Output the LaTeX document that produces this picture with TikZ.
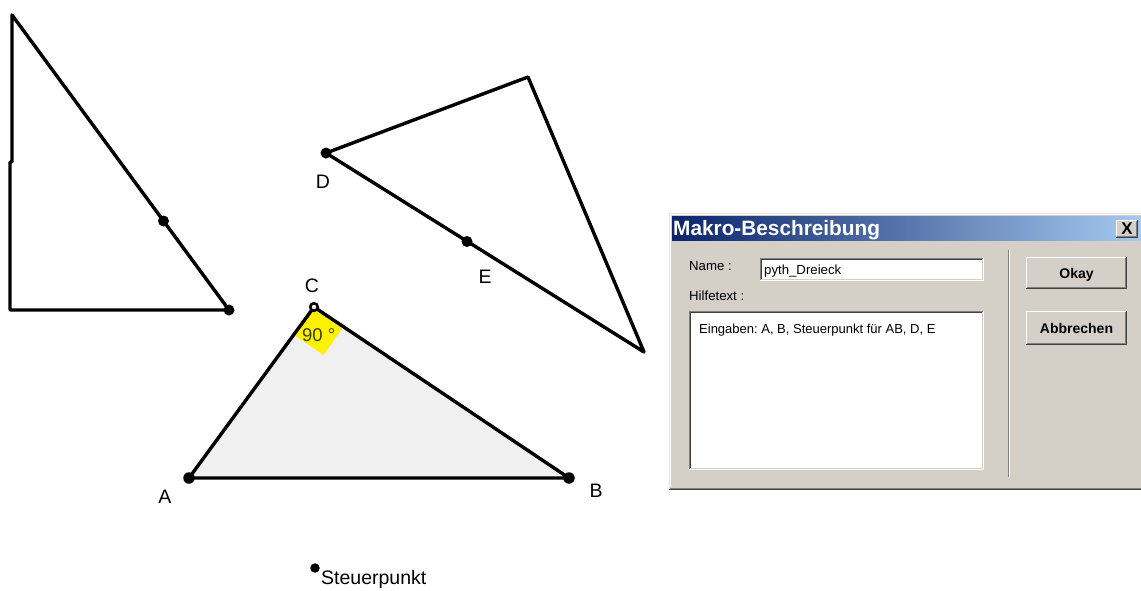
\documentclass[tikz,border=0pt]{standalone}
\usepackage{fontspec}
\setmainfont{Liberation Sans}
\frenchspacing
\definecolor{dlgbg}{RGB}{212,208,200}
\definecolor{tleft}{RGB}{10,36,106}
\definecolor{tright}{RGB}{166,202,240}
\definecolor{trifill}{RGB}{240,240,240}
\definecolor{dkgray}{RGB}{64,64,64}
\definecolor{mdgray}{RGB}{128,128,128}
\definecolor{angtxt}{RGB}{60,60,0}
\newcommand{\myraised}[4]{%
  \fill[dlgbg] (#1,#2) rectangle (#3,#4);
  \draw[white,line width=1pt] (#1+0.5,#4-1) -- (#1+0.5,#2+0.5) -- (#3-1,#2+0.5);
  \draw[dkgray,line width=1pt] (#1,#4-0.5) -- (#3-0.5,#4-0.5) -- (#3-0.5,#2);
  \draw[mdgray,line width=1pt] (#1+1,#4-1.5) -- (#3-1.5,#4-1.5) -- (#3-1.5,#2+1);}
\newcommand{\mysunken}[4]{%
  \fill[white] (#1,#2) rectangle (#3,#4);
  \draw[mdgray,line width=1pt] (#1+0.5,#4) -- (#1+0.5,#2+0.5) -- (#3,#2+0.5);
  \draw[dkgray,line width=1pt] (#1+1.5,#4-1) -- (#1+1.5,#2+1.5) -- (#3-1,#2+1.5);
  \draw[dlgbg,line width=1pt] (#1+1,#4-1.5) -- (#3-1.5,#4-1.5) -- (#3-1.5,#2+1);
  \draw[white,line width=1pt] (#1,#4-0.5) -- (#3-0.5,#4-0.5) -- (#3-0.5,#2);}
\begin{document}
\begin{tikzpicture}[x=1pt,y=-1pt,line join=round,
  geo/.style={line width=3.4pt,black},
  dot/.style={circle,fill=black,inner sep=0pt,minimum size=#1},
  dot/.default=11pt,
  lbl/.style={font=\fontsize{19.5}{19.5}\selectfont,anchor=base,text=black,inner sep=0pt},
  dlgtxt/.style={font=\fontsize{13.2}{14}\selectfont,anchor=base west,inner sep=0pt},
  btntxt/.style={font=\bfseries\fontsize{14}{14}\selectfont,anchor=base,inner sep=0pt}]
\useasboundingbox (0,0) rectangle (1141,590);
\fill[white] (0,0) rectangle (1141,590);

% ---------- left triangle ----------
\coordinate (L1) at (12,15);
\coordinate (L2) at (10,310);
\coordinate (L3) at (229,310);
\draw[geo] (L1) -- (12,162) -- (10,162) -- (L2) -- (L3) -- cycle;
\node[dot] (L3d) at (L3) {};
\node[dot] (Lm) at (163.5,221) {};

% ---------- triangle D ----------
\coordinate (D) at (326,153);
\coordinate (T) at (528,77);
\coordinate (R) at (644,352);
\draw[geo] (D) -- (T) -- (R) -- cycle;
\node[dot] (Dd) at (D) {};
\node[dot] (Ed) at (467,241.5) {};
\node[lbl] (Dl) at (323,188) {D};
\node[lbl] (El) at (485,283) {E};

% ---------- main triangle ----------
\coordinate (A) at (189,478);
\coordinate (B) at (569,478);
\coordinate (C) at (314,307);
\fill[trifill] (A) -- (B) -- (C) -- cycle;
\fill[yellow] (C) -- (294,335) -- (323.5,355) -- (343.5,326.5) -- cycle;
\node[font=\fontsize{18.5}{18.5}\selectfont,anchor=base west,inner sep=0pt,text=angtxt] (ang) at (302,341) {90 °};
\draw[geo] (A) -- (B) -- (C) -- cycle;
\draw[line width=2.6pt,fill=trifill] (C) circle[radius=3.8pt];
\node[dot=11.5pt] (Ad) at (A) {};
\node[dot=11.5pt] (Bd) at (B) {};
\node[lbl] (Al) at (165,503) {A};
\node[lbl] (Bl) at (596,497) {B};
\node[lbl] (Cl) at (312,292) {C};

% ---------- Steuerpunkt ----------
\node[dot=9.5pt] (S) at (315,568) {};
\node[font=\fontsize{19.5}{19.5}\selectfont,anchor=base west,inner sep=0pt] (Sl) at (321,584) {Steuerpunkt};

% ---------- dialog ----------
\fill[dlgbg] (669,213) rectangle (1141,490);
\draw[dlgbg!60!white,line width=1pt] (669.5,488) -- (669.5,213.5) -- (1141,213.5);
\draw[white,line width=1pt] (670.5,487) -- (670.5,214.5) -- (1141,214.5);
\draw[mdgray,line width=1pt] (670,488.5) -- (1141,488.5);
\draw[dkgray,line width=1pt] (669,489.5) -- (1141,489.5);
\shade[left color=tleft,right color=tright] (672,216) rectangle (1141,240);
\node[font=\bfseries\fontsize{20.8}{20.8}\selectfont,anchor=base west,inner sep=0pt,text=white] (title) at (673,235.5) {Makro-Beschreibung};
\myraised{1116}{220}{1138}{238}
\node[font=\bfseries\fontsize{17}{17}\selectfont,anchor=center,inner sep=0pt] (close) at (1127,229) {X};

\node[dlgtxt] (namel) at (689,270) {Name :};
\mysunken{760}{258}{984}{281}
\node[dlgtxt] (namev) at (764,274) {pyth\_Dreieck};
\node[dlgtxt] (hilfel) at (689,300) {Hilfetext :};
\mysunken{689}{311}{984}{470}
\node[dlgtxt,font=\fontsize{13}{14}\selectfont] (hilfev) at (699,333) {Eingaben: A, B, Steuerpunkt für AB, D, E};

\draw[mdgray,line width=1pt] (1008.5,250) -- (1008.5,477);
\draw[white,line width=1pt] (1009.5,250) -- (1009.5,477);

\myraised{1026}{257}{1127}{289}
\node[btntxt] (okay) at (1076.5,278) {Okay};
\myraised{1026}{311}{1127}{345}
\node[btntxt] (abbr) at (1076.5,333) {Abbrechen};
\end{tikzpicture}
\end{document}
